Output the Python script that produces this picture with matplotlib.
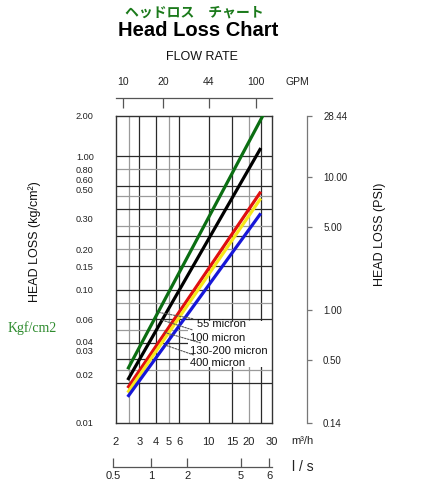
import numpy as np
import matplotlib
matplotlib.use("Agg")
import matplotlib.pyplot as plt
from matplotlib.patches import Rectangle
from matplotlib.ticker import NullLocator

plt.rcParams['font.family'] = ['Liberation Sans', 'DejaVu Sans']

# ---------------- data ----------------
flow_m3h = [2.45, 24.7]             # m3/h, start & end of each curve
green_flow = [2.45, 25.8]
green_loss = [0.0253, 2.04]          # 55 micron
black_loss = [0.0210, 1.15]          # 100 micron
red_loss = [0.0183, 0.542]           # 130-200 micron
yellow_loss = [0.0169, 0.483]        # 130-200 micron
blue_loss = [0.0157, 0.373]          # 400 micron

micron_labels = ['55 micron', '100 micron', '130-200 micron', '400 micron']
leader_flow = [4.15, 4.45, 4.7, 4.7]

m3h_ticks = [2, 3, 4, 5, 6, 10, 15, 20, 30]
m3h_labels = ['2', '3', '4', '5', '6', '10', '15', '20', '30']
v_grid = [2.5, 3, 4, 5, 6, 10, 15, 20, 25]
h_grid = [1, 0.8, 0.6, 0.5, 0.4, 0.3, 0.25, 0.2, 0.15,
          0.1, 0.08, 0.06, 0.05, 0.04, 0.03, 0.025, 0.02]
light_grid = [2.5, 5, 20, 0.8, 0.5, 0.3, 0.2, 0.08, 0.05, 0.025]

kg_tick_pos = [2.0, 1.0, 0.8, 0.663, 0.558, 0.34, 0.2, 0.15, 0.1, 0.06, 0.0405, 0.0347, 0.023, 0.01]
kg_tick_labels = ['2.00', '1.00', '0.80', '0.60', '0.50', '0.30', '0.20', '0.15',
                  '0.10', '0.06', '0.04', '0.03', '0.02', '0.01']

psi_tick_pos = [28.44, 10.0, 4.21, 1.0, 0.421, 0.1422]
psi_tick_labels = ['28.44', '10.00', '5.00', '1.00', '0.50', '0.14']

gpm_ticks = [10, 20, 44, 100]
gpm_labels = ['10', '20', '44', '100']
GPM_TO_M3H = 0.22712

ls_tick_pos_m3h = [1.9, 3.67, 6.86, 17.5, 28.5]
ls_tick_labels = ['0.5', '1', '2', '5', '6']

# ---------------- layout helpers ----------------
W, H = 421, 500
fig = plt.figure(figsize=(4.21, 5.0), dpi=100)


def rect(x0, y0, x1, y1):
    return [x0 / W, 1 - y1 / H, (x1 - x0) / W, (y1 - y0) / H]


def ftext(x, y, s, **kw):
    fig.text(x / W, 1 - y / H, s, **kw)


# ---------------- main axes ----------------
ax = fig.add_axes(rect(116, 116, 272, 423))
ax.set_xscale('log')
ax.set_yscale('log')
ax.set_xlim(2, 30)
ax.set_ylim(0.01, 2.0)
ax.xaxis.set_minor_locator(NullLocator())
ax.yaxis.set_minor_locator(NullLocator())

for v in v_grid:
    ax.axvline(v, color='#9a9a9a' if v in light_grid else '#2a2a2a', lw=0.9, zorder=1)
for h in h_grid:
    ax.axhline(h, color='#9a9a9a' if h in light_grid else '#2a2a2a', lw=0.9, zorder=1)

for s in ax.spines.values():
    s.set_color('#333333')
    s.set_linewidth(1.0)

# white label box
ax.add_patch(Rectangle((0.4615, 0.182), 0.54, 0.15, transform=ax.transAxes,
                       facecolor='white', edgecolor='none', zorder=1.5))

lw = 2.3
ax.plot(green_flow, green_loss, color='#0b6e12', lw=lw, zorder=3, solid_capstyle='butt')
ax.plot(flow_m3h, black_loss, color='black', lw=lw, zorder=3, solid_capstyle='butt')
ax.plot(flow_m3h, red_loss, color='#e01010', lw=lw, zorder=3, solid_capstyle='butt')
ax.plot(flow_m3h, yellow_loss, color='#f7e81a', lw=lw, zorder=3.1, solid_capstyle='butt')
ax.plot(flow_m3h, blue_loss, color='#1717d8', lw=lw, zorder=3.2, solid_capstyle='butt')


def on_line(fl, fx_, ly):
    return 10 ** np.interp(np.log10(fl), np.log10(fx_), np.log10(ly))


label_pos = [(0.519, 0.3225), (0.474, 0.277), (0.474, 0.2345), (0.474, 0.195)]
line_sets = [(green_flow, green_loss), (flow_m3h, black_loss),
             (flow_m3h, red_loss), (flow_m3h, blue_loss)]
for lab, lf, (fxs, lys), tp in zip(micron_labels, leader_flow, line_sets, label_pos):
    ax.annotate(lab, xy=(lf, on_line(lf, fxs, lys)), xycoords='data',
                xytext=tp, textcoords='axes fraction', ha='left', va='center',
                fontsize=8, color='#111111', zorder=4,
                arrowprops=dict(arrowstyle='-', linestyle=(0, (1.5, 1.2)), color='#555555',
                                lw=0.8, shrinkA=1, shrinkB=0))

ax.set_xticks(m3h_ticks, m3h_labels)
ax.set_yticks(kg_tick_pos, kg_tick_labels)
ax.tick_params(axis='x', length=0, pad=10, labelsize=8, colors='#222222')
ax.tick_params(axis='y', length=0, pad=16, labelsize=6.6, colors='#222222')

# ---------------- top GPM axis ----------------
sec = ax.secondary_xaxis(1 + 18 / 307, functions=(lambda x: x / GPM_TO_M3H,
                                                  lambda g: g * GPM_TO_M3H))
sec.set_xticks(gpm_ticks, gpm_labels)
sec.xaxis.set_minor_locator(NullLocator())
sec.tick_params(direction='in', length=7, width=0.9, pad=8, labelsize=7.5,
                color='#555555', labelcolor='#222222')
sec.spines['top'].set_color('#555555')
sec.spines['top'].set_linewidth(0.9)

# ---------------- right PSI axis ----------------
axp = fig.add_axes(rect(307, 116, 312, 423))
axp.patch.set_visible(False)
axp.set_yscale('log')
axp.set_ylim(0.1422, 28.44)
axp.xaxis.set_visible(False)
for k in ['top', 'right', 'bottom']:
    axp.spines[k].set_visible(False)
axp.spines['left'].set_color('#777777')
axp.spines['left'].set_linewidth(0.9)
axp.yaxis.tick_right()
axp.set_yticks(psi_tick_pos, psi_tick_labels)
axp.yaxis.set_minor_locator(NullLocator())
axp.tick_params(axis='y', direction='in', length=3.8, width=0.9, color='#777777',
                pad=8, labelsize=7, labelcolor='#222222')

# ---------------- bottom l/s axis ----------------
axl = fig.add_axes(rect(113, 455, 272, 467))
axl.patch.set_visible(False)
axl.set_xscale('log')
axl.set_xlim(1.89, 30)
axl.yaxis.set_visible(False)
for k in ['top', 'right', 'left']:
    axl.spines[k].set_visible(False)
axl.spines['bottom'].set_color('#555555')
axl.spines['bottom'].set_linewidth(0.9)
axl.set_xticks(ls_tick_pos_m3h, ls_tick_labels)
axl.xaxis.set_minor_locator(NullLocator())
axl.tick_params(axis='x', direction='in', length=6.5, width=0.9, color='#555555',
                pad=3, labelsize=8, labelcolor='#222222')

# ---------------- texts ----------------
ftext(194, 13, 'ヘッドロス　チャート', family=['Noto Sans CJK JP', 'DejaVu Sans'],
      fontsize=10, fontweight='bold', color='#1b7a1b', ha='center', va='center')
ftext(198, 31, 'Head Loss Chart', fontsize=14.5, fontweight='bold', color='black',
      ha='center', va='center')
ftext(202, 57, 'FLOW RATE', fontsize=9, color='#111111', ha='center', va='center')
ftext(297, 82, 'GPM', fontsize=7.5, color='#222222', ha='center', va='center')
ftext(302, 441, 'm³/h', fontsize=8, color='#222222', ha='center', va='center')
ftext(303, 467, 'l / s', fontsize=10, color='#222222', ha='center', va='center')
ftext(35, 242, 'HEAD LOSS (kg/cm²)', fontsize=9, rotation=90, color='#111111',
      ha='center', va='center')
ftext(380, 234, 'HEAD LOSS (PSI)', fontsize=9, rotation=90, color='#111111',
      ha='center', va='center')
ftext(8, 328, 'Kgf/cm2', family=['Liberation Serif', 'DejaVu Serif'], fontsize=10,
      color='#2e8b2e', ha='left', va='center')

fig.savefig('out.png', dpi=100)
